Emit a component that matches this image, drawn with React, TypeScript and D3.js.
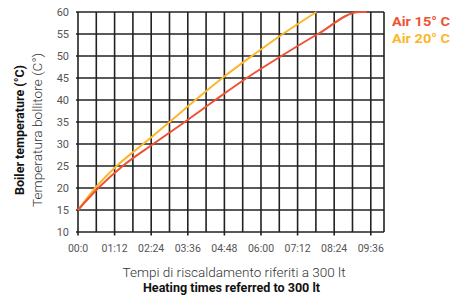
import React from "react";
import * as d3 from "d3";

// minutes from start, temperatures in °C
const tempLevels = [15, 20, 25, 30, 35, 40, 45, 50, 55, 60];
const air15Minutes = [0, 40, 88, 148, 210, 270, 332, 400, 472, 554];
const air20Minutes = [0, 34, 76, 128, 180, 231, 284, 342, 403, 469];
const air15Tail = { minute: 568, temp: 60 };
const xTickLabels = ["00:0", "01:12", "02:24", "03:36", "04:48", "06:00", "07:12", "08:24", "09:36"];
const yTicks = [10, 15, 20, 25, 30, 35, 40, 45, 50, 55, 60];
const seriesNames = ["Air 15° C", "Air 20° C"];

const W = 461;
const H = 295;
const left = 78;
const right = 384;
const top = 12;
const bottom = 232;
const RED = "#ef5133";
const ORANGE = "#fbb62a";

export default function App() {
  const x = d3.scaleLinear().domain([0, 602]).range([left, right]);
  const y = d3.scaleLinear().domain([10, 60]).range([bottom, top]);

  const s15 = air15Minutes.map((m, i) => ({ m, t: tempLevels[i] }));
  s15.push({ m: air15Tail.minute, t: air15Tail.temp });
  const s20 = air20Minutes.map((m, i) => ({ m, t: tempLevels[i] }));

  const line = d3
    .line<{ m: number; t: number }>()
    .x((d) => x(d.m))
    .y((d) => y(d.t))
    .curve(d3.curveMonotoneX);

  const vGrid = d3.range(0, 577, 36);
  const xTicks = xTickLabels.map((l, i) => ({ l, m: i * 72 }));
  const font = "Roboto, 'DejaVu Sans', sans-serif";

  return (
    <svg width={W} height={H} style={{ position: "absolute", left: 0, top: 0 }}>
      <rect x={0} y={0} width={W} height={H} fill="#fff" />
      {/* grid */}
      {vGrid.map((m) => (
        <line key={"v" + m} x1={x(m)} x2={x(m)} y1={y(60)} y2={y(10)} stroke="#222" strokeWidth={1.6} />
      ))}
      <line x1={x(602)} x2={x(602)} y1={y(60)} y2={y(10)} stroke="#222" strokeWidth={1.6} />
      {yTicks.map((t) => (
        <line key={"h" + t} x1={left - 2} x2={right} y1={y(t)} y2={y(t)} stroke="#222" strokeWidth={1.6} />
      ))}
      {xTicks.map((d) => (
        <line key={"xt" + d.m} x1={x(d.m)} x2={x(d.m)} y1={bottom} y2={bottom + 3.5} stroke="#222" strokeWidth={1.6} />
      ))}
      {/* curves */}
      <path d={line(s20) || ""} fill="none" stroke={ORANGE} strokeWidth={2} />
      <path d={line(s15) || ""} fill="none" stroke={RED} strokeWidth={2} />
      {/* y tick labels */}
      {yTicks.map((t) => (
        <text key={"yl" + t} x={69} y={y(t)} dy="0.35em" textAnchor="end" fontSize={11} fill="#555" fontFamily={font}>
          {t}
        </text>
      ))}
      {/* x tick labels */}
      {xTicks.map((d) => (
        <text key={"xl" + d.m} x={x(d.m)} y={252} textAnchor="middle" fontSize={10.5} fill="#555" fontFamily={font}>
          {d.l}
        </text>
      ))}
      {/* axis titles */}
      <text x={234} y={276.5} textAnchor="middle" fontSize={13} fill="#333" fontFamily={font} fontWeight={300}
        textLength={223} lengthAdjust="spacingAndGlyphs">
        Tempi di riscaldamento riferiti a 300 lt
      </text>
      <text x={231.5} y={292} textAnchor="middle" fontSize={12} fill="#111" fontFamily={font} fontWeight={700}
        textLength={177} lengthAdjust="spacingAndGlyphs">
        Heating times referred to 300 lt
      </text>
      <text transform="translate(24,130) rotate(-90)" textAnchor="middle" fontSize={12.5} fill="#111" fontFamily={font} fontWeight={700}
        textLength={130} lengthAdjust="spacingAndGlyphs">
        Boiler temperature (°C)
      </text>
      <text transform="translate(42,130) rotate(-90)" textAnchor="middle" fontSize={13} fill="#333" fontFamily={font} fontWeight={300}
        textLength={154} lengthAdjust="spacingAndGlyphs">
        Temperatura bollitore (C°)
      </text>
      {/* legend */}
      <text x={392} y={26} fontSize={13.5} fontWeight={700} fill={RED} fontFamily={font}
        textLength={58} lengthAdjust="spacingAndGlyphs">
        {seriesNames[0]}
      </text>
      <text x={392} y={43} fontSize={13.5} fontWeight={700} fill={ORANGE} fontFamily={font}
        textLength={58} lengthAdjust="spacingAndGlyphs">
        {seriesNames[1]}
      </text>
    </svg>
  );
}
